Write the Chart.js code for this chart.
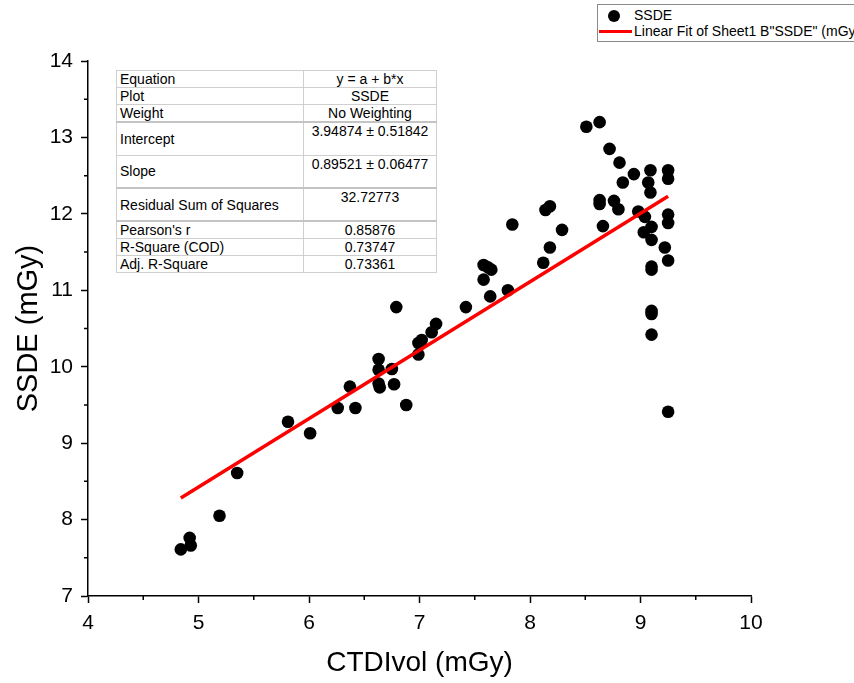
<!DOCTYPE html>
<html>
<head>
<meta charset="utf-8">
<script src="https://cdn.jsdelivr.net/npm/chart.js@4.4.1/dist/chart.umd.min.js"></script>
<style>
  html, body { margin: 0; padding: 0; background: #fff; }
  #wrap { position: relative; width: 854px; height: 683px; overflow: hidden; font-family: "Liberation Sans", Arial, sans-serif; }
  canvas { position: absolute; left: 0; top: 0; }
  #stats { position: absolute; left: 116px; top: 70px; border-collapse: collapse; background: #fff; font-size: 14px; color: #000; }
  #stats td { border: 1px solid #cfcfcf; padding: 0 3px; line-height: 16px; white-space: nowrap; }
  #stats td.lab { width: 180px; vertical-align: middle; text-align: left; }
  #stats td.val { width: 126px; vertical-align: top; text-align: center; }
  #stats tr.thick td { border-bottom: 2px solid #c4c4c4; }
  #legend { position: absolute; left: 597px; top: 4px; width: 320px; height: 36px; border: 1px solid #8a8a8a; background: #fff; font-size: 14px; }
  #legend .row { position: absolute; left: 0; height: 17px; line-height: 17px; white-space: nowrap; }
  #legend .dot { position: absolute; left: 10px; top: 3px; width: 12px; height: 12px; border-radius: 50%; background: #000; }
  #legend .ln { position: absolute; left: 1px; top: 7px; width: 33px; height: 3px; background: #ff0000; }
  #legend .txt { position: absolute; left: 36px; top: 0; }
</style>
</head>
<body>
<div id="wrap">
  <canvas id="c" width="854" height="683"></canvas>
  <table id="stats">
    <tr style="height:17px"><td class="lab">Equation</td><td class="val" style="vertical-align:middle">y = a + b*x</td></tr>
    <tr style="height:17px"><td class="lab">Plot</td><td class="val" style="vertical-align:middle">SSDE</td></tr>
    <tr class="thick" style="height:17px"><td class="lab">Weight</td><td class="val" style="vertical-align:middle">No Weighting</td></tr>
    <tr style="height:33px"><td class="lab">Intercept</td><td class="val">3.94874 ± 0.51842</td></tr>
    <tr class="thick" style="height:33px"><td class="lab">Slope</td><td class="val">0.89521 ± 0.06477</td></tr>
    <tr class="thick" style="height:33px"><td class="lab">Residual Sum of Squares</td><td class="val">32.72773</td></tr>
    <tr style="height:17px"><td class="lab">Pearson's r</td><td class="val" style="vertical-align:middle">0.85876</td></tr>
    <tr style="height:17px"><td class="lab">R-Square (COD)</td><td class="val" style="vertical-align:middle">0.73747</td></tr>
    <tr style="height:17px"><td class="lab">Adj. R-Square</td><td class="val" style="vertical-align:middle">0.73361</td></tr>
  </table>
  <div id="legend">
    <div class="row" style="top:2px"><div class="dot"></div><div class="txt">SSDE</div></div>
    <div class="row" style="top:18px"><div class="ln"></div><div class="txt">Linear Fit of Sheet1 B"SSDE" (mGy)</div></div>
  </div>
</div>
<script>
// ---- data ----
const ctdiVol = [
  4.84, 4.92, 4.93, 5.19, 5.35, 5.81, 6.01, 6.26, 6.42, 6.37,
  6.63, 6.63, 6.75, 6.63, 6.64, 6.77, 6.79, 6.88, 6.99, 7.02,
  6.99, 7.11, 7.15, 7.42, 7.58, 7.62, 7.65, 7.58, 7.64, 7.80,
  7.84, 8.12, 8.18, 8.29, 8.14, 8.18, 8.51, 8.63, 8.72, 8.81,
  8.94, 9.09, 9.25, 9.25, 8.84, 9.07, 9.09, 8.63, 8.63, 8.76,
  8.80, 8.66, 8.98, 9.04, 9.25, 9.25, 9.10, 9.03, 9.10, 9.22,
  9.25, 9.10, 9.10, 9.10, 9.10, 9.10, 9.25
];
const ssde = [
  7.61, 7.76, 7.66, 8.05, 8.61, 9.28, 9.13, 9.46, 9.46, 9.74,
  10.10, 9.96, 9.97, 9.78, 9.73, 9.77, 10.78, 9.50, 10.31, 10.35,
  10.16, 10.45, 10.56, 10.78, 11.33, 11.30, 11.27, 11.14, 10.92, 11.00,
  11.86, 11.36, 11.56, 11.79, 12.05, 12.10, 13.14, 13.20, 12.85, 12.67,
  12.52, 12.57, 12.57, 12.46, 12.41, 12.41, 12.28, 12.18, 12.13, 12.17,
  12.06, 11.84, 12.03, 11.96, 11.99, 11.88, 11.83, 11.76, 11.66, 11.56,
  11.39, 11.31, 11.27, 10.73, 10.69, 10.42, 9.41
];
// linear fit line end points (y = 3.94874 + 0.89521 x)
const fitX = [4.84, 9.25];
const fitY = [8.282, 12.229];
const xTickLabels = ['4', '5', '6', '7', '8', '9', '10'];
const yTickLabels = ['7', '8', '9', '10', '11', '12', '13', '14'];

const FONT = "'Liberation Sans', Arial, sans-serif";
const isMajor = v => Math.abs(v - Math.round(v)) < 1e-6;

const minorTicks = {
  id: 'minorTicks',
  afterDraw(chart) {
    const ctx = chart.ctx;
    const xs = chart.scales.x, ys = chart.scales.y;
    const area = chart.chartArea;
    ctx.save();
    ctx.strokeStyle = '#000';
    ctx.lineWidth = 1.5;
    ctx.beginPath();
    xs.ticks.forEach(t => {
      if (!isMajor(t.value)) {
        const px = xs.getPixelForValue(t.value);
        ctx.moveTo(px, area.bottom);
        ctx.lineTo(px, area.bottom + 4);
      }
    });
    ys.ticks.forEach(t => {
      if (!isMajor(t.value)) {
        const py = ys.getPixelForValue(t.value);
        ctx.moveTo(area.left, py);
        ctx.lineTo(area.left - 4, py);
      }
    });
    ctx.stroke();
    ctx.restore();
  }
};

new Chart(document.getElementById('c'), {
  type: 'scatter',
  data: {
    datasets: [
      {
        label: 'SSDE',
        data: ctdiVol.map((x, i) => ({ x: x, y: ssde[i] })),
        backgroundColor: '#000',
        borderColor: '#000',
        borderWidth: 0,
        pointRadius: 6.3,
        pointHoverRadius: 6.3,
        order: 2
      },
      {
        label: 'Linear Fit of Sheet1 B"SSDE" (mGy)',
        data: fitX.map((x, i) => ({ x: x, y: fitY[i] })),
        showLine: true,
        borderColor: '#ff0000',
        backgroundColor: '#ff0000',
        borderWidth: 3.5,
        pointRadius: 0,
        order: 1
      }
    ]
  },
  options: {
    responsive: false,
    animation: false,
    events: [],
    layout: { padding: { top: 61, right: 103, left: 0, bottom: 0 } },
    plugins: { legend: { display: false }, tooltip: { enabled: false } },
    scales: {
      x: {
        type: 'linear',
        min: 4, max: 10,
        afterFit: s => { s.height = 87; },
        ticks: {
          stepSize: 0.5,
          autoSkip: false,
          maxRotation: 0,
          padding: 8,
          color: '#000',
          font: { family: FONT, size: 21 },
          callback: v => isMajor(v) ? xTickLabels[Math.round(v) - 4] : ''
        },
        grid: {
          display: true,
          drawOnChartArea: false,
          drawTicks: true,
          tickLength: 7,
          tickWidth: 1.5,
          tickColor: c => (c.tick && isMajor(c.tick.value)) ? '#000' : 'rgba(0,0,0,0)'
        },
        border: { display: true, color: '#000', width: 1.5 },
        title: {
          display: true,
          text: 'CTDIvol (mGy)',
          color: '#000',
          font: { family: FONT, size: 28 },
          padding: { top: 0, bottom: 2.5 }
        }
      },
      y: {
        type: 'linear',
        min: 7, max: 14,
        afterFit: s => { s.width = 88; },
        ticks: {
          stepSize: 0.5,
          autoSkip: false,
          padding: 8,
          color: '#000',
          font: { family: FONT, size: 21 },
          callback: v => isMajor(v) ? yTickLabels[Math.round(v) - 7] : ''
        },
        grid: {
          display: true,
          drawOnChartArea: false,
          drawTicks: true,
          tickLength: 7,
          tickWidth: 1.5,
          tickColor: c => (c.tick && isMajor(c.tick.value)) ? '#000' : 'rgba(0,0,0,0)'
        },
        border: { display: true, color: '#000', width: 1.5 },
        title: {
          display: true,
          text: 'SSDE (mGy)',
          color: '#000',
          font: { family: FONT, size: 29 },
          padding: { top: 12, bottom: 0 }
        }
      }
    }
  },
  plugins: [minorTicks]
});
</script>
</body>
</html>
